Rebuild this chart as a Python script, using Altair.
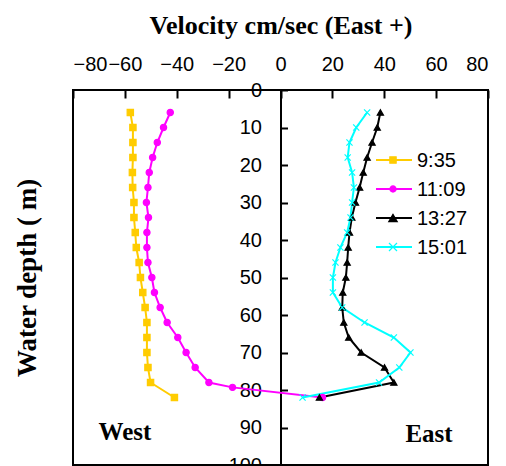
import altair as alt
import pandas as pd

# ---- data ----
times = ["9:35", "11:09", "13:27", "15:01"]
colors = ["#FFCC00", "#FF00FF", "#000000", "#00FFFF"]

depth_0935 = [6, 10, 14, 18, 22, 26, 30, 34, 38, 42, 46, 50, 54, 58, 62, 66, 70, 74, 78, 82]
vel_0935 = [-57.9, -56.9, -56.9, -56.9, -57.1, -57.0, -56.5, -56.5, -56.0, -55.6,
            -54.5, -54.0, -53.1, -52.2, -51.5, -51.5, -51.5, -51.1, -50.1, -40.9]

depth_1109 = [6, 10, 14, 18, 22, 26, 30, 34, 38, 42, 46, 50, 54, 58, 62, 66, 70, 74, 78, 79.3, 82]
vel_1109 = [-42.5, -45.1, -47.5, -49.3, -50.6, -51.1, -51.7, -50.9, -51.5, -51.5,
            -51.1, -49.6, -48.6, -46.4, -43.7, -39.6, -36.4, -32.9, -27.6, -18.5, 16.2]

depth_1327 = [6, 10, 14, 18, 22, 26, 30, 34, 38, 42, 46, 50, 54, 58, 62, 66, 70, 74, 78, 82]
vel_1327 = [38.5, 37.3, 35.3, 33.4, 31.9, 30.5, 28.9, 27.5, 26.6, 26.1,
            25.7, 25.2, 24.0, 23.8, 24.4, 26.3, 31.1, 40.1, 43.7, 15.0]

depth_1501 = [6, 10, 14, 18, 22, 26, 30, 34, 38, 42, 46, 50, 54, 58, 62, 66, 70, 74, 78, 82]
vel_1501 = [33.4, 29.2, 26.6, 25.9, 27.6, 28.3, 27.6, 27.0, 25.7, 23.1,
            21.2, 20.2, 20.2, 23.8, 32.4, 43.7, 50.1, 45.8, 38.0, 8.5]

x_ticks = [-80, -60, -40, -20, 0, 20, 40, 60, 80]
y_ticks = [0, 10, 20, 30, 40, 50, 60, 70, 80, 90, 100]

# ---- table ----
series = [(times[0], depth_0935, vel_0935), (times[1], depth_1109, vel_1109),
          (times[2], depth_1327, vel_1327), (times[3], depth_1501, vel_1501)]
rows = []
for s, (t, ds, vs) in enumerate(series):
    for i, (d, v) in enumerate(zip(ds, vs)):
        rows.append({"time": t, "depth": d, "v": v, "idx": s * 100 + i, "s": s})
df = pd.DataFrame(rows)

XPATH = "M-1,-1L1,1M-1,1L1,-1"
shapes = ["square", "circle", "triangle-up", XPATH]
sizes = [40, 38, 72, 64]

W, H = 415, 375
serif = "Liberation Serif"
sans = "Liberation Sans"

xscale = alt.Scale(domain=[-80, 80], nice=False, zero=False)
yscale = alt.Scale(domain=[0, 100], reverse=True, nice=False, zero=False)
cscale = alt.Scale(domain=times, range=colors)

lines = alt.Chart(df).mark_line(strokeWidth=2).encode(
    x=alt.X("v:Q", scale=xscale,
            axis=alt.Axis(orient="top", values=x_ticks, ticks=False, domain=False, grid=False,
                          labelFont=sans, labelFontSize=20, labelColor="black", labelPadding=16,
                          title="Velocity cm/sec (East +)", titleFont=serif, titleFontSize=26,
                          titleFontWeight="bold", titleColor="black", titleY=-57,
                          titleBaseline="alphabetic")),
    y=alt.Y("depth:Q", scale=yscale,
            axis=alt.Axis(orient="left", labels=False, ticks=False, domain=False, grid=False,
                          title="Water depth ( m)", titleFont=serif, titleFontSize=27,
                          titleFontWeight="bold", titleColor="black", titleX=-38,
                          titleBaseline="alphabetic")),
    color=alt.Color("time:N", scale=cscale, legend=None),
    detail="s:N",
    order=alt.Order("idx:Q"),
)

points = alt.Chart(df).mark_point(filled=True, strokeWidth=1.2, opacity=1).encode(
    x=alt.X("v:Q", scale=xscale,
            axis=alt.Axis(orient="bottom", offset=-H, values=x_ticks, labels=False, domain=False,
                          grid=False, tickSize=8, tickWidth=2, tickColor="black", title=None)),
    y=alt.Y("depth:Q", scale=yscale,
            axis=alt.Axis(orient="left", offset=-W / 2, values=y_ticks, ticks=False, domain=True,
                          domainColor="black", domainWidth=2, grid=False, labelFont=sans,
                          labelFontSize=20, labelColor="black", labelPadding=19, title=None)),
    color=alt.Color("time:N", scale=cscale, legend=None),
    stroke=alt.Stroke("time:N", scale=alt.Scale(domain=times, range=colors), legend=None),
    shape=alt.Shape("time:N", scale=alt.Scale(domain=times, range=shapes), legend=None),
    size=alt.Size("time:N", scale=alt.Scale(domain=times, range=sizes), legend=None),
    order=alt.Order("s:Q"),
)

yticks_right = alt.Chart(pd.DataFrame({"depth": y_ticks})).mark_rule(opacity=0).encode(
    y=alt.Y("depth:Q", scale=yscale,
            axis=alt.Axis(orient="right", offset=-W / 2, values=y_ticks, labels=False, domain=False,
                          grid=False, tickSize=7, tickWidth=2, tickColor="black", title=None)),
)

# ---- manual legend ----
legend_layers = []
for i, t in enumerate(times):
    ld = pd.DataFrame({"time": [t]})
    ry = 70 + 29 * i
    legend_layers.append(alt.Chart(ld).mark_rule(strokeWidth=2, color=colors[i]).encode(
        x=alt.value(303), x2=alt.value(339), y=alt.value(ry)))
    legend_layers.append(alt.Chart(ld).mark_point(filled=True, strokeWidth=1.2, opacity=1,
                                                  color=colors[i], stroke=colors[i]).encode(
        x=alt.value(320), y=alt.value(ry), shape=alt.value(shapes[i]), size=alt.value(sizes[i])))
    legend_layers.append(alt.Chart(ld).mark_text(align="left", baseline="middle", font=sans,
                                                 fontSize=20, color="black").encode(
        x=alt.value(344), y=alt.value(ry + 1), text="time:N"))

notes = pd.DataFrame({"label": ["West", "East"]})
west = alt.Chart(notes.iloc[[0]]).mark_text(font=serif, fontSize=25, fontWeight="bold",
                                            align="center", baseline="alphabetic", color="black").encode(
    x=alt.value(52), y=alt.value(350), text="label:N")
east = alt.Chart(notes.iloc[[1]]).mark_text(font=serif, fontSize=25, fontWeight="bold",
                                            align="center", baseline="alphabetic", color="black").encode(
    x=alt.value(356), y=alt.value(352), text="label:N")

chart = alt.layer(lines, points, yticks_right, west, east, *legend_layers).resolve_axis(
    x="independent", y="independent"
).properties(
    width=W, height=H,
    autosize=alt.AutoSizeParams(type="none"),
    padding={"left": 65, "top": 82, "right": 10, "bottom": 1},
    background="white",
).configure_view(stroke="black", strokeWidth=2)

chart.save("out.html", embed_options={"renderer": "svg", "actions": False})
